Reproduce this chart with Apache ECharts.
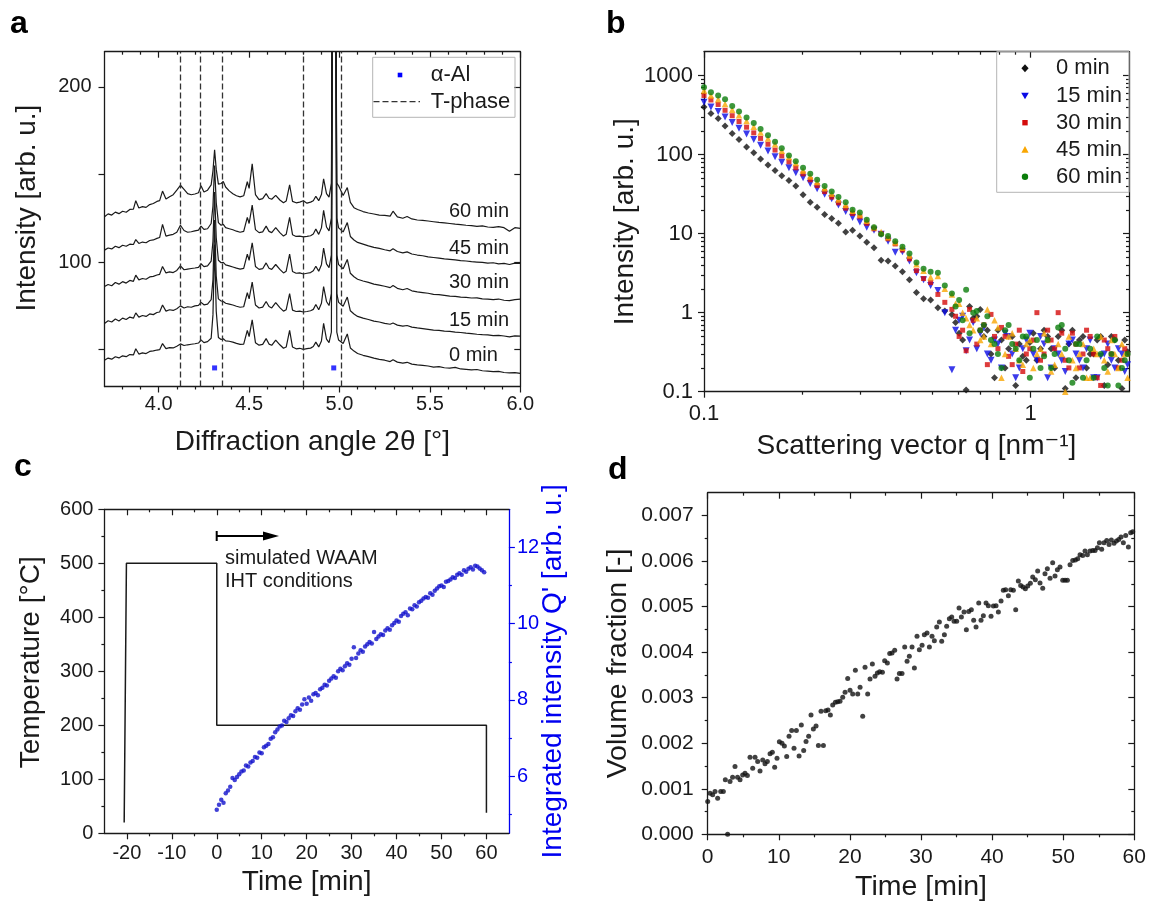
<!DOCTYPE html>
<html><head><meta charset="utf-8">
<script src="https://cdn.jsdelivr.net/npm/echarts@6/dist/echarts.min.js"></script>
<style>html,body{margin:0;padding:0;background:#fff}#c{width:1151px;height:904px}</style>
</head><body><div id="c"></div>
<script>
// ---------------- Panel a: XRD patterns ----------------
const A_X = [3.70,3.72,3.74,3.76,3.78,3.80,3.82,3.84,3.86,3.873,
3.89,3.91,3.93,3.95,3.97,3.99,4.005,4.021,4.04,4.06,
4.08,4.10,4.12,4.14,4.16,4.18,4.20,4.22,4.234,4.25,
4.27,4.29,4.300,4.309,4.318,4.33,4.345,4.357,4.37,4.39,
4.41,4.43,4.45,4.47,4.49,4.50,4.517,4.535,4.555,4.575,
4.594,4.61,4.625,4.647,4.67,4.69,4.705,4.724,4.74,4.76,
4.78,4.80,4.82,4.84,4.855,4.869,4.885,4.90,4.912,4.928,
4.942,4.955,4.962,4.978,4.985,4.995,5.003,5.02,5.043,5.06,
5.08,5.10,5.13,5.16,5.19,5.22,5.25,5.28,5.296,5.32,
5.35,5.374,5.40,5.43,5.46,5.49,5.52,5.55,5.58,5.61,
5.64,5.67,5.70,5.73,5.76,5.79,5.82,5.85,5.88,5.91,
5.94,5.97,6.00];
const A_Y0 = [44.0,45.2,44.6,46.0,45.3,46.5,46.0,47.2,47.0,50.5,
47.5,48.2,47.8,49.0,49.3,49.8,50.0,53.5,50.6,51.2,
51.0,52.0,53.3,52.4,52.8,53.1,53.4,53.8,55.6,54.0,
54.6,56.5,70,110,72,57,55.8,56.2,55.0,54.8,
54.3,53.6,53.0,53.2,61.0,57.5,67.0,54.0,52.6,53.0,
56.3,53.2,52.5,55.5,52.8,50.8,51.5,61.0,51.5,50.5,
50.8,50.2,50.6,50.9,51.8,54.3,51.6,55.0,65.0,56.0,
54.0,60,300,300,60,55.5,54.5,53.5,59.0,51.0,
49.2,47.8,46.8,46.0,45.2,44.5,44.0,43.2,44.3,42.9,
42.3,42.8,41.8,41.3,41.0,40.7,40.1,40.3,39.7,39.5,
39.9,39.0,38.8,38.5,38.7,38.0,37.8,37.5,37.6,37.0,
36.8,36.9,36.5];
const A_Y15 = [65.0,66.5,65.8,67.5,66.4,68.0,67.2,68.6,68.0,71.0,
68.6,69.5,69.0,70.4,70.0,71.2,71.5,75.5,72.0,72.8,
72.4,73.4,75.0,73.8,74.5,74.2,75.0,75.3,77.0,75.6,
76.0,78.5,90,124,92,79,77.8,77.5,76.5,76.0,
75.5,74.8,74.2,74.5,82.5,79.0,88.5,75.5,73.8,74.3,
77.5,74.6,73.8,76.8,74.0,72.0,72.8,82.0,72.6,71.8,
72.0,71.5,71.8,72.2,73.0,75.8,72.8,76.5,86.0,77.5,
75.2,82,300,300,82,77.0,76.0,74.8,80.0,72.2,
70.4,69.0,68.0,67.2,66.3,65.8,65.0,64.5,65.2,64.0,
63.4,63.8,62.9,62.4,62.0,61.6,61.2,61.0,60.6,60.4,
60.0,59.8,59.4,59.2,58.8,58.6,58.5,58.0,58.2,57.8,
57.3,57.9,57.7];
const A_Y30 = [86.0,87.2,86.5,88.3,87.4,88.8,88.0,89.5,89.0,92.5,
89.8,90.6,90.2,91.5,91.8,92.6,93.0,97.5,93.8,94.4,
94.0,95.2,97.8,95.6,96.0,96.3,96.6,97.0,99.0,97.4,
97.8,100.5,112,140,114,101,99.6,99.8,98.4,97.8,
97.2,96.5,96.0,96.4,104.5,101.0,111.0,97.5,95.8,96.2,
99.5,96.5,95.8,98.6,95.8,93.8,94.8,104.5,94.6,93.6,
93.8,93.2,93.6,94.0,95.0,97.6,94.8,98.5,108.0,99.0,
96.8,104,300,300,104,98.5,97.6,96.2,101.5,93.6,
91.6,90.2,89.2,88.4,87.4,86.8,86.2,85.4,86.6,85.0,
84.2,84.9,83.6,83.0,82.6,82.2,81.6,81.4,81.0,80.6,
80.4,80.0,79.8,79.5,79.6,79.0,78.8,78.6,78.9,78.2,
78.0,78.6,78.8];
const A_Y45 = [106.8,108.0,107.5,109.0,108.2,109.6,109.0,110.2,110.0,112.8,
110.6,111.4,111.0,112.3,112.6,113.5,114.0,121.5,114.8,115.4,
115.8,117.0,121.0,118.0,117.0,117.3,117.8,118.2,120.5,118.6,
119.0,122.0,132,155,134,122.5,121.0,121.5,119.6,119.0,
118.4,117.6,117.0,117.5,125.5,122.0,132.5,118.5,116.8,117.2,
120.5,117.5,116.8,119.6,116.8,114.8,115.8,125.5,115.6,114.6,
114.8,114.4,114.6,115.0,116.0,118.8,115.8,119.5,129.5,120.0,
117.8,125,300,300,125,119.5,118.5,117.2,122.5,114.6,
112.6,111.2,110.2,109.2,108.4,107.8,107.0,106.4,107.6,106.0,
105.2,105.8,104.6,104.0,103.6,103.0,102.6,102.2,101.8,101.5,
101.2,100.8,100.6,100.2,100.0,99.8,99.4,99.6,99.0,99.2,
98.6,99.4,99.2];
const A_Y60 = [125.8,127.5,126.8,128.5,127.6,129.0,128.4,130.0,130.2,135.0,
130.8,131.6,131.2,132.8,133.4,134.6,135.0,140.5,136.0,137.2,
138.4,141.0,143.8,141.5,139.0,138.4,138.8,139.5,143.5,140.0,
141.0,144.0,152,164,153,144.5,144.8,146.0,142.8,140.6,
139.0,137.8,137.2,137.8,145.8,142.0,156.0,138.5,135.6,136.2,
139.0,136.4,135.8,138.0,135.4,133.8,134.8,144.0,134.6,133.8,
134.2,135.0,133.6,134.2,135.0,137.5,135.0,138.5,147.5,139.0,
137.0,145,300,300,145,143.5,142.8,138.0,142.5,134.0,
131.0,130.0,128.8,128.0,127.4,126.8,126.6,126.2,129.0,125.8,
125.0,126.0,124.6,124.0,123.8,123.4,123.0,122.6,122.4,122.0,
121.6,121.4,121.0,120.8,120.4,120.6,120.0,119.8,120.2,119.6,
117.5,119.6,119.2];
const A_SERIES = [['0 min', A_Y0], ['15 min', A_Y15], ['30 min', A_Y30], ['45 min', A_Y45], ['60 min', A_Y60]];
const T_PHASE_X = [4.123, 4.234, 4.354, 4.804, 5.009];
const AL_X = [4.309, 4.968];
const AL_Y = [39.6, 39.6];
const A_XTICKS = [4.0, 4.5, 5.0, 5.5, 6.0];
const A_YTICKS = [50, 100, 150, 200];
const A_YLABELS = [100, 200];

// ---------------- Panel b: SAXS curves ----------------
const B_Q = [0.100,0.105,0.1105,0.116,0.122,0.128,0.135,0.142,0.149,0.157,
0.165,0.173,0.182,0.191,0.201,0.2115,0.222,0.234,0.246,0.258,
0.2715,0.285,0.300,0.315,0.3315,0.3485,0.366,0.385,0.405,0.4255,
0.447,0.470,0.494,0.520,0.546,0.574,0.604,0.6345,0.667,0.701,
0.737,0.775,0.814,0.856,0.900,0.946,0.994,1.045,1.099,1.155,
1.214,1.276,1.342,1.410,1.483,1.559,1.638,1.722,1.810,1.903,
1.980];
const B_I0 = [400,330,285,230,185,155,125,105,88,74,
63,54,47,40,31,25,21.5,17.5,15.5,13.5,
10.5,11,9.3,7.8,6.6,4.6,4.5,3.9,3.3,2.6,
1.8,1.5,1.45,1.15,1.05,0.95,0.55,0.105,0.85,1.1,
0.6,0.15,0.45,0.35,0.12,0.28,0.42,0.25,0.6,0.35,
0.5,0.11,0.6,0.45,0.2,0.3,0.5,0.22,0.45,0.11,
0.32];
const B_I15 = [460,400,350,298,255,215,182,155,131,111,
94,80,68,59,51,43,37,31.5,27.5,23,
19,16,14,12,11,9.8,8.0,5.8,5.9,4.5,
3.2,2.6,2.2,1.9,1.0,0.19,0.8,0.33,0.75,0.55,
0.3,0.45,0.2,0.5,0.15,0.35,0.55,0.25,0.4,0.2,
0.3,0.18,0.45,0.25,0.35,0.15,0.28,0.4,0.2,0.3,
0.22];
const B_I30 = [559,490,430,363,310,262,222,188,160,135,
114,96,81,68,57,48,40.5,34,29,24.5,
21,18,16.3,13.5,11.5,10,8.6,7.4,6.2,4.8,
3.4,2.7,2.4,1.7,1.35,1.1,0.5,0.33,0.8,0.6,
0.22,0.5,0.65,0.28,0.4,0.18,0.35,1.0,0.3,0.45,
1.0,0.25,0.55,0.2,0.6,0.3,0.12,0.35,0.5,0.25,
0.3];
const B_I45 = [646,560,500,436,370,315,265,225,190,160,
135,112,93,78,63,53,45,37.5,32,27,
23,19.5,17.5,14.5,12,10.5,9.0,7.8,6.6,5.3,
4.1,3.4,2.8,2.9,2.0,1.7,1.3,0.85,0.6,0.45,
1.1,0.8,0.15,0.5,0.35,0.22,0.45,0.3,0.55,0.18,
0.4,0.1,0.25,0.3,0.15,0.35,0.5,0.18,0.3,0.4,
0.15];
const B_I60 = [710,615,560,500,410,350,295,250,210,175,
145,120,97,82,68,57,48,40,34,29,
25,20,18.5,15,12,9.8,9.3,8,6.8,5.6,
4.3,3.6,3.3,3.2,2.2,1.75,1.45,1.95,1.0,0.6,
0.9,0.4,0.2,0.7,0.35,0.5,0.15,0.45,0.28,0.2,
0.65,0.35,0.13,0.4,0.25,0.15,0.3,0.12,0.45,0.2,
0.3];
// additional high-q points (noisy plateau region)
const B_Q_HI = [0.589,0.619,0.650,0.684,0.719,0.756,0.794,0.835,0.878,0.923,
0.970,1.019,1.072,1.127,1.184,1.245,1.309,1.376,1.446,1.521,
1.598,1.680,1.766,1.856,1.941];
const B_I0_HI = [0.75,0.45,1.2,0.9,0.5,0.3,0.6,0.2,0.5,0.4,0.25,0.55,0.35,0.5,0.2,0.6,0.4,0.15,0.5,0.3,0.45,0.12,0.5,0.25,0.45];
const B_I15_HI = [0.6,0.9,0.45,0.35,0.65,0.25,0.4,0.55,0.3,0.2,0.45,0.3,0.5,0.15,0.35,0.25,0.4,0.3,0.2,0.45,0.15,0.3,0.25,0.35,0.18];
const B_I30_HI = [0.9,0.6,1.1,0.4,0.7,0.95,0.35,0.5,0.22,0.6,0.3,0.45,0.25,0.6,0.35,0.55,0.2,0.4,0.3,0.5,0.15,0.45,0.3,0.2,0.35];
const B_I45_HI = [1.3,1.0,0.7,0.85,0.5,0.4,0.65,0.3,0.55,0.25,0.4,0.2,0.35,0.45,0.22,0.3,0.5,0.2,0.4,0.15,0.3,0.25,0.45,0.2,0.3];
const B_I60_HI = [1.2,0.8,0.55,1.05,0.7,0.45,0.3,0.6,0.4,0.25,0.5,0.35,0.2,0.45,0.3,0.7,0.25,0.4,0.15,0.35,0.5,0.2,0.3,0.12,0.25];
const B_NAMES = ['0 min', '15 min', '30 min', '45 min', '60 min'];
const B_VALUES = [B_I0, B_I15, B_I30, B_I45, B_I60];
const B_VALUES_HI = [B_I0_HI, B_I15_HI, B_I30_HI, B_I45_HI, B_I60_HI];
const B_DECADES_X = [0.1, 1];
const B_DECADES_Y = [0.1, 1, 10, 100, 1000];

// ---------------- Panel c: temperature program & integrated intensity ----------------
const TEMP_T = [-20.6, -20.1, 0, 0, 60, 60];
const TEMP_V = [20, 500, 500, 200, 200, 38];
const C_T = [0,0.5,1,1.5,2,2.5,3,3.5,4,4.5,5,5.5,6,6.5,7,7.5,8,8.5,9,9.5,
10,10.5,11,11.5,12,12.5,13,13.5,14,14.5,15,15.5,16,16.5,17,17.5,18,18.5,19,19.5,
20,20.5,21,21.5,22,22.5,23,23.5,24,24.5,25,25.5,26,26.5,27,27.5,28,28.5,29,29.5,
30,30.5,31,31.5,32,32.5,33,33.5,34,34.5,35,35.5,36,36.5,37,37.5,38,38.5,39,39.5,
40,40.5,41,41.5,42,42.5,43,43.5,44,44.5,45,45.5,46,46.5,47,47.5,48,48.5,49,49.5,
50,50.5,51,51.5,52,52.5,53,53.5,54,54.5,55,55.5,56,56.5,57,57.5,58,58.5,59,59.5];
const C_Q = [5.12,5.25,5.38,5.30,5.55,5.62,5.72,5.95,5.90,5.98,6.05,6.12,6.15,6.28,6.25,6.36,6.40,6.50,6.48,6.62,
6.60,6.76,6.80,6.84,6.98,7.02,7.15,7.22,7.30,7.33,7.45,7.42,7.52,7.60,7.58,7.70,7.78,7.74,7.88,8.02,
7.90,8.06,7.98,8.15,8.18,8.12,8.28,8.32,8.40,8.38,8.50,8.56,8.62,8.58,8.75,8.82,8.78,8.88,8.96,8.92,
9.08,9.38,9.10,9.22,9.30,9.26,9.40,9.46,9.52,9.48,9.78,9.60,9.66,9.72,9.70,9.82,9.88,9.84,9.96,10.02,
10.08,10.05,10.20,10.26,10.30,10.22,10.40,10.38,10.48,10.45,10.56,10.60,10.66,10.70,10.68,10.80,10.76,10.86,10.92,10.98,
11.00,10.96,11.10,11.12,11.16,11.22,11.20,11.28,11.32,11.28,11.40,11.36,11.44,11.48,11.42,11.52,11.50,11.45,11.40,11.35];
const C_XTICKS = [-20, -10, 0, 10, 20, 30, 40, 50, 60];
const C_YTICKS = [0, 100, 200, 300, 400, 500, 600];
const C_Y2TICKS = [6, 8, 10, 12];

// ---------------- Panel d: volume fraction ----------------
const D_T = [0,0.33,0.7,1.03,1.4,1.83,2.2,2.48,2.8,3.14,
3.5,3.84,4.2,4.55,4.92,5.25,5.58,5.95,6.33,6.66,
7.03,7.36,7.74,8.06,8.39,8.77,9.09,9.42,9.75,10.08,
10.45,10.78,11.11,11.44,11.81,12.14,12.47,12.85,13.17,13.5,
13.83,14.2,14.53,14.86,15.24,15.57,15.94,16.27,16.6,16.92,
17.25,17.58,17.96,18.28,18.61,18.99,19.32,19.69,20.02,20.39,
20.77,21.1,21.43,21.8,22.13,22.5,22.83,23.16,23.53,23.86,
24.19,24.57,24.89,25.27,25.6,25.93,26.3,26.63,26.96,27.33,
27.71,28.04,28.36,28.74,29.07,29.44,29.77,30.15,30.47,30.85,
31.18,31.55,31.88,32.21,32.58,32.91,33.29,33.61,33.99,34.32,
34.65,35.02,35.35,35.68,36.05,36.38,36.71,37.08,37.41,37.74,
38.12,38.44,38.77,39.15,39.47,39.85,40.18,40.55,40.88,41.26,
41.58,41.91,42.29,42.62,42.99,43.32,43.69,44.02,44.35,44.68,
45.01,45.38,45.71,46.08,46.41,46.74,47.12,47.44,47.77,48.15,
48.52,48.85,49.18,49.55,49.93,50.26,50.59,50.96,51.34,51.71,
52.04,52.37,52.74,53.07,53.4,53.77,54.15,54.48,54.81,55.09,
55.41,55.74,56.12,56.45,56.77,57.15,57.48,57.81,58.13,58.46,
58.79,59.17,59.49,59.78];
const D_V = [0.00072,0.00090,0.00087,0.00094,0.00079,0.00094,0.00094,0.00120,0.00000,0.00116,
0.00125,0.00149,0.00125,0.00120,0.00130,0.00134,0.00129,0.00169,0.00145,0.00169,
0.00160,0.00139,0.00163,0.00155,0.00160,0.00177,0.00180,0.00147,0.00167,0.00203,
0.00200,0.00194,0.00171,0.00215,0.00228,0.00189,0.00228,0.00172,0.00240,0.00184,
0.00204,0.00215,0.00262,0.00231,0.00238,0.00195,0.00270,0.00195,0.00271,0.00273,
0.00262,0.00284,0.00290,0.00291,0.00292,0.00301,0.00312,0.00342,0.00316,0.00308,
0.00360,0.00308,0.00323,0.00259,0.00367,0.00308,0.00341,0.00374,0.00347,0.00354,
0.00357,0.00356,0.00381,0.00376,0.00397,0.00398,0.00404,0.00341,0.00353,0.00353,
0.00411,0.00380,0.00391,0.00411,0.00365,0.00435,0.00405,0.00415,0.00438,0.00442,
0.00411,0.00435,0.00425,0.00455,0.00466,0.00424,0.00438,0.00457,0.00473,0.00477,
0.00468,0.00468,0.00497,0.00477,0.00488,0.00449,0.00489,0.00493,0.00470,0.00455,
0.00508,0.00470,0.00480,0.00508,0.00502,0.00479,0.00501,0.00502,0.00488,0.00512,
0.00536,0.00537,0.00524,0.00537,0.00536,0.00493,0.00556,0.00546,0.00543,0.00539,
0.00545,0.00551,0.00565,0.00559,0.00578,0.00552,0.00540,0.00572,0.00583,0.00562,
0.00596,0.00567,0.00581,0.00587,0.00558,0.00558,0.00558,0.00592,0.00601,0.00602,
0.00605,0.00614,0.00612,0.00622,0.00614,0.00622,0.00623,0.00623,0.00629,0.00640,
0.00626,0.00640,0.00645,0.00636,0.00646,0.00639,0.00644,0.00647,0.00653,0.00640,
0.00656,0.00631,0.00662,0.00664];
const D_XTICKS = [0, 10, 20, 30, 40, 50, 60];
const D_YTICKS = [0, 0.001, 0.002, 0.003, 0.004, 0.005, 0.006, 0.007];

// ---------------- styling ----------------
const FONT = '"Liberation Sans", Arial, "DejaVu Sans", sans-serif';
const AX = '#1a1a1a';
const BLUE = '#0000f0';
const B_COLORS = ['#111111', '#0a0ae6', '#d40b0b', '#f9a602', '#0b7d0b'];
const B_SYMBOLS = ['diamond', 'triangle', 'rect', 'triangle', 'circle'];
const B_ROT = [0, 180, 0, 0, 0];
const B_SIZES = [7, 7, 5, 6.5, 6];
const TITLE = 28;

const chart = echarts.init(document.getElementById('c'), null, {renderer: 'canvas', width: 1151, height: 904});

const grids = [
  {left: 104.5, top: 51.7, width: 415.8, height: 334.8},
  {left: 704, top: 51.7, width: 425, height: 340},
  {left: 104.4, top: 509.3, width: 404.5, height: 324},
  {left: 707.7, top: 492.7, width: 426.6, height: 341.6}
].map(g => Object.assign({show: false, containLabel: false, outerBoundsMode: 'none'}, g));

const xAxes = [], yAxes = [];
function baseAxis(o) {
  const a = Object.assign({
    type: 'value', silent: true, splitLine: {show: false}, axisPointer: {show: false},
    axisLine: {show: false}, axisTick: {show: false}, axisLabel: {show: false},
    nameMoveOverlap: false
  }, o);
  a.axisLine = Object.assign({}, a.axisLine, {onZero: false});
  return a;
}
function addX(o) { xAxes.push(baseAxis(o)); return xAxes.length - 1; }
function addY(o) { yAxes.push(baseAxis(o)); return yAxes.length - 1; }
const line = c => ({show: true, onZero: false, lineStyle: {color: c || AX, width: 1.3}});
const ticks = (vals, len, inside, c) => ({show: true, inside: inside, length: len, customValues: vals, lineStyle: {color: c || AX, width: 1.2}});
const lbl = (vals, size, margin, fmt, c) => ({show: true, customValues: vals, fontSize: size, margin: margin, color: c || AX, fontFamily: FONT, formatter: fmt});
const nm = (size, c, pad) => ({fontSize: size, color: c || AX, fontFamily: FONT, padding: pad || 0});

// ---- axes panel a
const aMinorX = []; for (let k = 38; k <= 59; k++) { if (k % 5) aMinorX.push(k / 10); }
const axA = addX({gridIndex: 0, position: 'bottom', min: 3.7, max: 6.0, axisLine: line(), axisTick: ticks(A_XTICKS, 6, false),
  axisLabel: lbl(A_XTICKS, 20, 8, v => v.toFixed(1)), name: 'Diffraction angle 2θ [°]', nameLocation: 'middle', nameGap: 42, nameTextStyle: nm(TITLE)});
addX({gridIndex: 0, position: 'bottom', min: 3.7, max: 6.0, axisTick: ticks(aMinorX, 3, false)});
addX({gridIndex: 0, position: 'top', min: 3.7, max: 6.0, axisLine: line(), axisTick: ticks(A_XTICKS, 6, true)});
addX({gridIndex: 0, position: 'top', min: 3.7, max: 6.0, axisTick: ticks(aMinorX, 3, true)});
const ayA = addY({gridIndex: 0, position: 'left', min: 29, max: 220, axisLine: line(), axisTick: ticks(A_YTICKS, 6, false),
  axisLabel: lbl(A_YLABELS, 20, 13, v => String(v)), name: 'Intensity [arb. u.]', nameLocation: 'middle', nameGap: 63, nameTextStyle: nm(TITLE, null, [0, 0, 0, 22])});
addY({gridIndex: 0, position: 'right', min: 29, max: 220, axisLine: line(), axisTick: ticks(A_YTICKS, 6, true)});

// ---- axes panel b (log-log)
const LX = [Math.log10(0.1), Math.log10(2)];
const LY = [Math.log10(0.1), Math.log10(2000)];
const bMinorX = []; for (let k = 2; k <= 9; k++) bMinorX.push(Math.log10(k * 0.1));
const bMinorY = []; for (let d = -1; d <= 3; d++) for (let k = 2; k <= 9; k++) { const v = k * Math.pow(10, d); if (v < 2000) bMinorY.push(Math.log10(v)); }
const logFmt = v => v >= 1 ? String(Math.round(v)) : String(+v.toFixed(1));
const axB = addX({gridIndex: 1, type: 'log', logBase: 10, position: 'bottom', min: 0.1, max: 2, axisLine: line(),
  axisLabel: {show: true, fontSize: 22, margin: 11, color: AX, fontFamily: FONT, showMaxLabel: false, formatter: logFmt},
  name: 'Scattering vector q [nm⁻¹]', nameLocation: 'middle', nameGap: 41, nameTextStyle: nm(TITLE)});
addX({gridIndex: 1, position: 'bottom', min: LX[0], max: LX[1], axisTick: ticks(B_DECADES_X.map(Math.log10), 6, false)});
addX({gridIndex: 1, position: 'bottom', min: LX[0], max: LX[1], axisTick: ticks(bMinorX, 3, false)});
addX({gridIndex: 1, position: 'top', min: LX[0], max: LX[1], axisLine: line(), axisTick: ticks(B_DECADES_X.map(Math.log10), 6, true)});
addX({gridIndex: 1, position: 'top', min: LX[0], max: LX[1], axisTick: ticks(bMinorX, 3, true)});
const ayB = addY({gridIndex: 1, type: 'log', logBase: 10, position: 'left', min: 0.1, max: 2000, axisLine: line(),
  axisLabel: {show: true, fontSize: 22, margin: 11, color: AX, fontFamily: FONT, showMaxLabel: false, formatter: logFmt},
  name: 'Intensity [arb. u.]', nameLocation: 'middle', nameGap: 65, nameTextStyle: nm(TITLE)});
addY({gridIndex: 1, position: 'left', min: LY[0], max: LY[1], axisTick: ticks(B_DECADES_Y.map(Math.log10), 6, false)});
addY({gridIndex: 1, position: 'left', min: LY[0], max: LY[1], axisTick: ticks(bMinorY, 3, false)});
addY({gridIndex: 1, position: 'right', min: LY[0], max: LY[1], axisLine: line(), axisTick: ticks(B_DECADES_Y.map(Math.log10), 6, true)});
addY({gridIndex: 1, position: 'right', min: LY[0], max: LY[1], axisTick: ticks(bMinorY, 3, true)});

// ---- axes panel c
const cMinorX = [-15, -5, 5, 15, 25, 35, 45, 55];
const cMinorY = [50, 150, 250, 350, 450, 550];
const axC = addX({gridIndex: 2, position: 'bottom', min: -25, max: 65, axisLine: line(), axisTick: ticks(C_XTICKS, 6, false),
  axisLabel: lbl(C_XTICKS, 20, 10, v => String(v)), name: 'Time [min]', nameLocation: 'middle', nameGap: 35, nameTextStyle: nm(TITLE)});
addX({gridIndex: 2, position: 'bottom', min: -25, max: 65, axisTick: ticks(cMinorX, 3, false)});
addX({gridIndex: 2, position: 'top', min: -25, max: 65, axisLine: line(), axisTick: ticks(C_XTICKS, 6, true)});
addX({gridIndex: 2, position: 'top', min: -25, max: 65, axisTick: ticks(cMinorX, 3, true)});
const ayC = addY({gridIndex: 2, position: 'left', min: 0, max: 600, axisLine: line(), axisTick: ticks(C_YTICKS, 6, false),
  axisLabel: lbl(C_YTICKS, 20, 11, v => String(v)), name: 'Temperature [°C]', nameLocation: 'middle', nameGap: 59, nameTextStyle: nm(TITLE, null, [0, 0, 0, 18])});
addY({gridIndex: 2, position: 'left', min: 0, max: 600, axisTick: ticks(cMinorY, 3, false)});
const ayC2 = addY({gridIndex: 2, position: 'right', min: 4.5, max: 13, axisLine: line(BLUE), axisTick: ticks(C_Y2TICKS, 6, false, BLUE),
  axisLabel: lbl(C_Y2TICKS, 20, 8, v => String(v), BLUE), name: "Integrated intensity Q' [arb. u.]", nameLocation: 'middle', nameGap: 30, nameTextStyle: nm(TITLE, BLUE)});
addY({gridIndex: 2, position: 'right', min: 4.5, max: 13, axisTick: ticks([5, 7, 9, 11], 3, false, BLUE)});

// ---- axes panel d
const dMinorX = [5, 15, 25, 35, 45, 55];
const dMinorY = [0.0005, 0.0015, 0.0025, 0.0035, 0.0045, 0.0055, 0.0065];
const axD = addX({gridIndex: 3, position: 'bottom', min: 0, max: 60, axisLine: line(), axisTick: ticks(D_XTICKS, 6, false),
  axisLabel: lbl(D_XTICKS, 21, 12, v => String(v)), name: 'Time [min]', nameLocation: 'middle', nameGap: 38, nameTextStyle: nm(TITLE + 0.5)});
addX({gridIndex: 3, position: 'bottom', min: 0, max: 60, axisTick: ticks(dMinorX, 3, false)});
addX({gridIndex: 3, position: 'top', min: 0, max: 60, axisLine: line(), axisTick: ticks(D_XTICKS, 6, true)});
addX({gridIndex: 3, position: 'top', min: 0, max: 60, axisTick: ticks(dMinorX, 3, true)});
const ayD = addY({gridIndex: 3, position: 'left', min: 0, max: 0.0075, axisLine: line(), axisTick: ticks(D_YTICKS, 6, false),
  axisLabel: lbl(D_YTICKS, 21, 14, v => v.toFixed(3)), name: 'Volume fraction [-]', nameLocation: 'middle', nameGap: 75, nameTextStyle: nm(TITLE + 0.5)});
addY({gridIndex: 3, position: 'left', min: 0, max: 0.0075, axisTick: ticks(dMinorY, 3, false)});
addY({gridIndex: 3, position: 'right', min: 0, max: 0.0075, axisLine: line(), axisTick: ticks(D_YTICKS, 6, true)});
addY({gridIndex: 3, position: 'right', min: 0, max: 0.0075, axisTick: ticks(dMinorY, 3, true)});

// ---------------- series ----------------
const series = [];
A_SERIES.forEach(([name, ys], i) => {
  const s = {
    name, type: 'line', xAxisIndex: axA, yAxisIndex: ayA, showSymbol: false, symbol: 'none', clip: true,
    lineStyle: {color: '#1a1a1a', width: 1.2}, silent: true, z: 3,
    data: A_X.map((x, j) => [x, ys[j]])
  };
  if (i === 0) {
    s.markLine = {silent: true, symbol: ['none', 'none'], label: {show: false}, animation: false,
      lineStyle: {color: '#333', width: 1.3, type: [6, 3]},
      data: T_PHASE_X.map(x => ({xAxis: x}))};
  }
  series.push(s);
});
series.push({name: 'α-Al', type: 'scatter', xAxisIndex: axA, yAxisIndex: ayA, symbol: 'rect', symbolSize: 5,
  itemStyle: {color: '#0000ff'}, silent: true, z: 4, data: AL_X.map((x, j) => [x, AL_Y[j]])});

B_VALUES.forEach((vals, i) => {
  const pts = B_Q.map((q, j) => [q, vals[j]]).concat(B_Q_HI.map((q, j) => [q, B_VALUES_HI[i][j]]));
  series.push({name: B_NAMES[i], type: 'scatter', xAxisIndex: axB, yAxisIndex: ayB, symbol: B_SYMBOLS[i],
    symbolRotate: B_ROT[i], symbolSize: B_SIZES[i], itemStyle: {color: B_COLORS[i]}, silent: true, z: 3 + i,
    data: pts});
});

series.push({name: 'Temperature', type: 'line', xAxisIndex: axC, yAxisIndex: ayC, showSymbol: false, symbol: 'none',
  lineStyle: {color: '#1a1a1a', width: 1.5}, silent: true, z: 3, data: TEMP_T.map((t, j) => [t, TEMP_V[j]])});
series.push({name: "Q'", type: 'scatter', xAxisIndex: axC, yAxisIndex: ayC2, symbol: 'circle', symbolSize: 4.5,
  itemStyle: {color: '#1212cc'}, silent: true, z: 4, data: C_T.map((t, j) => [t, C_Q[j]])});

series.push({name: 'Volume fraction', type: 'scatter', xAxisIndex: axD, yAxisIndex: ayD, symbol: 'circle', symbolSize: 5,
  itemStyle: {color: '#111'}, silent: true, z: 3, data: D_T.map((t, j) => [t, D_V[j]])});

// ---------------- annotations ----------------
function gText(text, x, y, size, extra) {
  return {type: 'text', x: x, y: y, silent: true, z: 100,
    style: Object.assign({text: text, fontSize: size, fontFamily: FONT, fill: AX, align: 'left', verticalAlign: 'middle',
      textAlign: 'left', textVerticalAlign: 'middle'}, extra || {})};
}
const graphics = [];
graphics.push(gText('a', 10, 24, 32, {fontWeight: 'bold', fill: '#000'}));
graphics.push(gText('b', 606, 24, 32, {fontWeight: 'bold', fill: '#000'}));
graphics.push(gText('c', 14, 467, 32, {fontWeight: 'bold', fill: '#000'}));
graphics.push(gText('d', 608, 470, 32, {fontWeight: 'bold', fill: '#000'}));
[['60 min', 211.7], ['45 min', 248.3], ['30 min', 282.7], ['15 min', 320.7], ['0 min', 355.7]].forEach(([t, y]) => graphics.push(gText(t, 449, y, 20)));
graphics.push({type: 'rect', silent: true, z: 50, shape: {x: 372.7, y: 57.3, width: 142.3, height: 60}, style: {fill: 'none', stroke: '#b4b4b4', lineWidth: 1}});
graphics.push({type: 'rect', silent: true, z: 51, shape: {x: 397.7, y: 72.7, width: 4.6, height: 4.6}, style: {fill: '#0000ff'}});
graphics.push(gText('α-Al', 430.7, 75, 22));
graphics.push({type: 'line', silent: true, z: 51, shape: {x1: 373.5, y1: 101.7, x2: 420, y2: 101.7}, style: {stroke: '#333', lineWidth: 1.3, lineDash: [6, 3]}});
graphics.push(gText('T-phase', 430.7, 101.7, 22));
graphics.push({type: 'rect', silent: true, z: 50, shape: {x: 996.7, y: 51.7, width: 132.3, height: 140.6}, style: {fill: 'none', stroke: '#b4b4b4', lineWidth: 1}});
const LBY = [68.3, 95.7, 122.7, 149.7, 176.7];
const LBX = 1025;
graphics.push({type: 'polygon', silent: true, z: 51, shape: {points: [[LBX, LBY[0] - 4], [LBX + 3.6, LBY[0]], [LBX, LBY[0] + 4], [LBX - 3.6, LBY[0]]]}, style: {fill: B_COLORS[0]}});
graphics.push({type: 'polygon', silent: true, z: 51, shape: {points: [[LBX - 3.8, LBY[1] - 3], [LBX + 3.8, LBY[1] - 3], [LBX, LBY[1] + 3.6]]}, style: {fill: B_COLORS[1]}});
graphics.push({type: 'rect', silent: true, z: 51, shape: {x: LBX - 2.7, y: LBY[2] - 2.7, width: 5.4, height: 5.4}, style: {fill: B_COLORS[2]}});
graphics.push({type: 'polygon', silent: true, z: 51, shape: {points: [[LBX, LBY[3] - 3.6], [LBX + 3.6, LBY[3] + 3], [LBX - 3.6, LBY[3] + 3]]}, style: {fill: B_COLORS[3]}});
graphics.push({type: 'circle', silent: true, z: 51, shape: {cx: LBX, cy: LBY[4], r: 3.2}, style: {fill: B_COLORS[4]}});
B_NAMES.forEach((n, i) => graphics.push(gText(n, 1056, LBY[i], 22)));
graphics.push({type: 'line', silent: true, z: 51, shape: {x1: 216.7, y1: 536, x2: 266, y2: 536}, style: {stroke: '#000', lineWidth: 2}});
graphics.push({type: 'line', silent: true, z: 51, shape: {x1: 216.7, y1: 531, x2: 216.7, y2: 541}, style: {stroke: '#000', lineWidth: 2}});
graphics.push({type: 'polygon', silent: true, z: 51, shape: {points: [[263, 531.5], [279, 536], [263, 540.5]]}, style: {fill: '#000'}});
graphics.push(gText('simulated WAAM', 225, 558.3, 20));
graphics.push(gText('IHT conditions', 225, 581.7, 20));

chart.setOption({
  animation: false,
  backgroundColor: '#ffffff',
  textStyle: {fontFamily: FONT},
  grid: grids,
  xAxis: xAxes,
  yAxis: yAxes,
  series: series,
  graphic: {elements: graphics}
});
</script>
</body></html>
